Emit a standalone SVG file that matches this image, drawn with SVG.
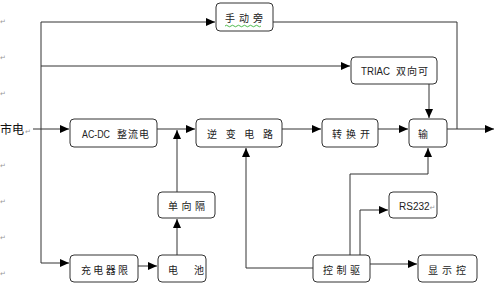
<svg xmlns="http://www.w3.org/2000/svg" width="500" height="284" viewBox="0 0 500 284">
<defs>
<marker id="ah" markerWidth="9" markerHeight="8" refX="9" refY="4" orient="auto" markerUnits="userSpaceOnUse">
<path d="M0,0 L9,4 L0,8 Z" fill="#000"/>
</marker>
<style>
.box{fill:#fff;stroke:#333;stroke-width:1}
.t{font-family:"Noto Sans CJK SC","Liberation Sans",sans-serif;font-size:10px;fill:#222}
.l{font-family:"Liberation Sans","Noto Sans CJK SC",sans-serif;font-size:10px;fill:#222}
.r{font-family:"DejaVu Sans",sans-serif;font-size:7px;fill:#999}
.c{fill:none;stroke:#333;stroke-width:1}
.a{fill:none;stroke:#333;stroke-width:1;marker-end:url(#ah)}
</style>
</defs>
<rect width="500" height="284" fill="#fff"/>
<g id="connectors">
<path class="c" d="M41,22 V263"/>
<path class="a" d="M41,22 H215"/>
<path class="c" d="M273,22 H457 V129"/>
<path class="a" d="M41,66 H350"/>
<path class="a" d="M429,84 V118"/>
<path class="a" d="M33,129 H69"/>
<path class="a" d="M157,129 H195"/>
<path class="a" d="M177,192 V130"/>
<path class="a" d="M282,129 H321"/>
<path class="a" d="M378,129 H408"/>
<path class="a" d="M447,129 H494"/>
<path class="a" d="M177,255 V219"/>
<path class="a" d="M41,263 H69"/>
<path class="a" d="M138,266 H157"/>
<path class="a" d="M313,268 H246 V148"/>
<path class="a" d="M350,255 V174 H428 V148"/>
<path class="a" d="M360,255 V210 H388"/>
<path class="a" d="M370,264 H417"/>
</g>
<g id="mains">
<text x="0" y="134" font-family="'Noto Sans CJK SC',sans-serif" font-size="12" fill="#111">市电</text>
<text class="r" x="25" y="134">↵</text>
</g>
<g id="marks">
<text class="r" x="0" y="24">↵</text>
<text class="r" x="0" y="60">↵</text>
<text class="r" x="0" y="96">↵</text>
<text class="r" x="0" y="168">↵</text>
<text class="r" x="0" y="204">↵</text>
<text class="r" x="0" y="240">↵</text>
<text class="r" x="0" y="276">↵</text>
</g>
<g id="manual">
<rect class="box" x="216" y="3" width="57" height="28" rx="4"/>
<text class="t" x="225" y="22" textLength="38" lengthAdjust="spacing">手动旁</text>
<path d="M225,26 q1.5,-1.5 3,0 t3,0 t3,0 t3,0 t3,0 t3,0 t3,0 t3,0 t3,0 t3,0 t3,0 t3,0" fill="none" stroke="#2a2" stroke-width="0.8"/>
</g>
<g id="triac">
<rect class="box" x="351" y="57" width="86" height="27" rx="4"/>
<text class="l" x="361" y="75" textLength="29" lengthAdjust="spacingAndGlyphs">TRIAC</text>
<text class="t" x="396" y="75" textLength="32" lengthAdjust="spacing">双向可</text>
</g>
<g id="acdc">
<rect class="box" x="70" y="119" width="87" height="28" rx="4"/>
<text class="l" x="82" y="138" textLength="28" lengthAdjust="spacingAndGlyphs">AC-DC</text>
<text class="t" x="117" y="138" textLength="32" lengthAdjust="spacing">整流电</text>
</g>
<g id="inverter">
<rect class="box" x="196" y="119" width="86" height="28" rx="4"/>
<text class="t" x="207" y="138" textLength="66" lengthAdjust="spacing">逆变电路</text>
</g>
<g id="switch">
<rect class="box" x="322" y="119" width="56" height="28" rx="4"/>
<text class="t" x="332" y="138" textLength="38" lengthAdjust="spacing">转换开</text>
</g>
<g id="output">
<rect class="box" x="409" y="119" width="38" height="28" rx="4"/>
<text class="t" x="418" y="138">输</text>
</g>
<g id="isolation">
<rect class="box" x="158" y="192" width="57" height="26" rx="4"/>
<text class="t" x="168" y="210" textLength="37" lengthAdjust="spacing">单向隔</text>
</g>
<g id="rs232">
<rect class="box" x="389" y="192" width="48" height="26" rx="4"/>
<text class="l" x="399" y="210" font-size="9">RS232<tspan class="r" font-size="5">↵</tspan></text>
</g>
<g id="charger">
<rect class="box" x="70" y="255" width="68" height="27" rx="4"/>
<text class="t" x="81" y="274" textLength="47" lengthAdjust="spacing">充电器限</text>
</g>
<g id="battery">
<rect class="box" x="158" y="255" width="48" height="27" rx="4"/>
<text class="t" x="168" y="274" textLength="36" lengthAdjust="spacing">电池</text>
</g>
<g id="controller">
<rect class="box" x="313" y="255" width="57" height="27" rx="4"/>
<text class="t" x="323" y="274" textLength="37" lengthAdjust="spacing">控制驱</text>
</g>
<g id="display">
<rect class="box" x="418" y="255" width="59" height="27" rx="4"/>
<text class="t" x="428" y="274" textLength="38" lengthAdjust="spacing">显示控</text>
</g>
</svg>
